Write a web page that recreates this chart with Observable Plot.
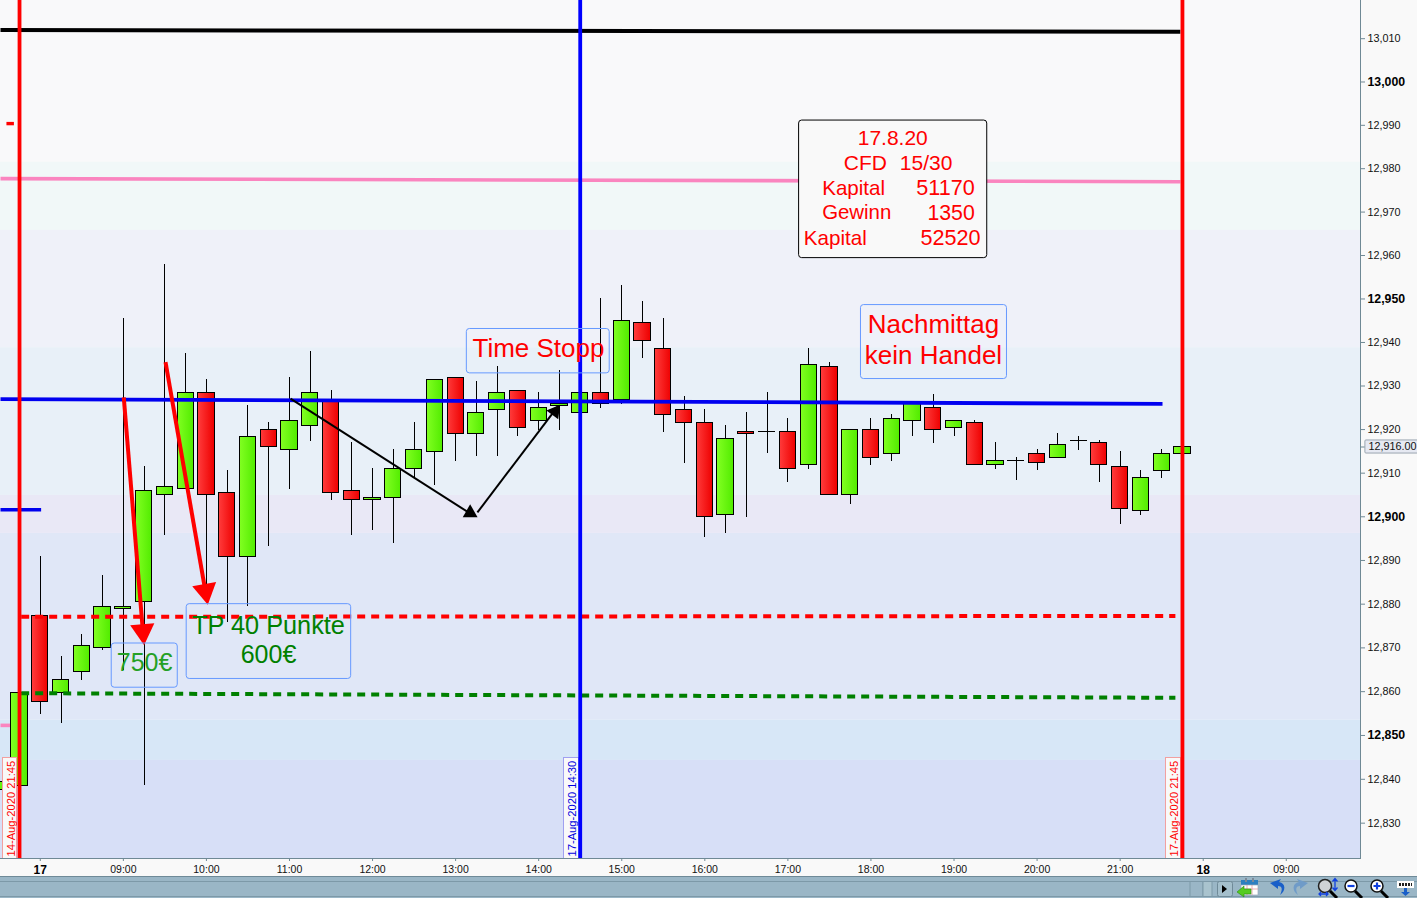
<!DOCTYPE html>
<html><head><meta charset="utf-8">
<script src="https://cdn.jsdelivr.net/npm/d3@7"></script>
<script src="https://cdn.jsdelivr.net/npm/@observablehq/plot@0.6"></script>
<style>
html,body{margin:0;padding:0;background:#f9f9f9;overflow:hidden}
#tb{position:relative;height:22px;width:1417px;background:#9ab6c6;overflow:hidden}
#tb svg{position:absolute;left:0;top:0;display:block}
</style></head><body><div id="c"></div><div id="tb"></div>
<script>
// Candles, 15 minute slots, slot 0 = Monday 17 Aug 08:00
const firstSlot = -2;
const open  = [12837.5,12838.5,12877.4,12859.6,12864.5,12870.0,12879.0,12880.6,12905.0,12906.4,12928.4,12905.5,12890.8,12920.0,12915.4,12920.9,12926.7,12906.0,12903.8,12904.3,12911.0,12914.9,12931.9,12919.0,12924.5,12928.9,12922.0,12925.5,12923.9,12928.4,12926.8,12944.5,12938.5,12924.5,12921.6,12900.4,12919.5,12919.5,12919.5,12911.9,12934.4,12905.0,12920.0,12914.5,12922.0,12925.0,12920.3,12921.6,12911.9,12912.8,12914.5,12913.4,12917.4,12917.0,12911.5,12901.4,12910.5,12914.5];
const close = [12839.4,12859.6,12857.6,12862.6,12870.5,12879.4,12879.4,12906.0,12906.9,12928.4,12905.0,12890.8,12918.4,12916.1,12922.0,12928.4,12905.5,12903.9,12904.3,12911.0,12915.4,12931.4,12919.0,12923.9,12928.4,12920.4,12925.0,12925.9,12928.4,12925.9,12945.0,12940.4,12923.4,12921.6,12900.0,12917.9,12919.0,12919.5,12911.0,12934.9,12905.0,12920.0,12913.5,12922.5,12926.0,12920.0,12922.0,12911.9,12912.8,12912.8,12912.4,12916.5,12917.4,12911.9,12901.8,12908.9,12914.5,12916.1];
const high  = [12839.4,12859.6,12890.9,12868.0,12873.1,12886.5,12945.5,12911.5,12958.0,12937.5,12931.5,12910.6,12925.5,12921.6,12932.0,12937.9,12929.0,12917.0,12911.1,12915.4,12921.6,12931.4,12931.9,12931.0,12934.5,12928.9,12928.5,12933.6,12928.4,12950.1,12953.1,12949.4,12945.5,12927.5,12924.5,12920.9,12923.9,12928.5,12922.5,12938.5,12935.4,12920.0,12922.5,12923.4,12926.0,12928.1,12922.0,12922.1,12917.0,12913.6,12915.4,12919.1,12918.4,12917.5,12915.0,12910.6,12915.4,12916.1];
const low   = [12837.5,12838.5,12854.8,12852.8,12862.5,12869.3,12864.8,12838.5,12895.8,12906.4,12880.5,12875.9,12879.4,12893.2,12906.3,12917.3,12903.8,12895.8,12896.9,12893.9,12909.1,12907.2,12912.7,12913.9,12913.9,12918.3,12919.8,12919.9,12923.9,12924.9,12925.8,12936.3,12919.4,12912.3,12895.3,12896.2,12899.9,12914.4,12907.9,12910.9,12905.0,12902.9,12911.8,12912.7,12918.3,12916.9,12918.3,12911.9,12910.9,12908.4,12910.5,12913.4,12915.3,12907.9,12898.3,12900.3,12908.8,12914.5];

// Background zones: lower and upper price, colour
const zoneLow  = [12981.5,12965.8,12938.8,12904.9,12896.2,12853.5,12844.3,12800];
const zoneHigh = [13050,12981.5,12965.8,12938.8,12904.9,12896.2,12853.5,12844.3];
const zoneFill = ["#f9f9fa","#f1f8f8","#eff1f9","#e8f0f8","#e9e8f6","#e0e7f7","#d7e7f7","#d7dff7"];

// Axis
const yRegular = [12830,12840,12860,12870,12880,12890,12910,12920,12930,12940,12960,12970,12980,12990,13010];
const yBold = [12850,12900,12950,13000];
const xSlots = [4,8,12,16,20,24,28,32,36,40,44,48,52,60];
const xLabels = ["09:00","10:00","11:00","12:00","13:00","14:00","15:00","16:00","17:00","18:00","19:00","20:00","21:00","09:00"];
const daySlots = [0,56];
const dayLabels = ["17","18"];

// Levels
const blackLine = [13012.0,13011.6];
const pinkLine  = [12977.7,12977.0];
const blueLine  = [12927.0,12925.9];
const redDashed = [12877.1,12877.3];
const greenDashed = [12859.65,12858.6];
const verticalSlots = [-1,26,55];
const verticalColors = ["#ff0000","#0000ff","#ff0000"];
const lastPrice = 12916;

const slots = open.map((_,i)=>i+firstSlot);
const candles = slots.map((s,i)=>({s,o:open[i],c:close[i],h:high[i],l:low[i]}));
const bodies = candles.filter(d=>d.o!==d.c);
const flats = candles.filter(d=>d.o===d.c);
const zones = zoneLow.map((l,i)=>({l,h:zoneHigh[i],f:zoneFill[i]}));
const seg = (a,b,y1,y2)=>[{x:a,y:y1},{x:b,y:y2}];
const axisColor = "#6f8995";
const half = 0.39;
const L = -1.916, R = 63.574, B = 12821.95, T = 13018.83;

const boxes = [
 {x1:36.54,x2:45.60,y1:12959.4,y2:12991.1,fill:"#f9f9f9",stroke:"#000"},
 {x1:20.54,x2:27.42,y1:12932.9,y2:12943.1,fill:"none",stroke:"#6699ff"},
 {x1:39.52,x2:46.55,y1:12931.6,y2:12948.6,fill:"none",stroke:"#6699ff"},
 {x1:3.44,x2:6.62,y1:12860.9,y2:12871.0,fill:"none",stroke:"#6699ff"},
 {x1:7.05,x2:14.97,y1:12862.9,y2:12880.0,fill:"none",stroke:"#6699ff"}
];
const notes = [
 {t:"17.8.20",x:41.05,y:12987.0,a:"middle",c:"#f00",z:21},
 {t:"CFD",x:38.69,y:12981.2,a:"start",c:"#f00",z:21},
 {t:"15/30",x:41.39,y:12981.2,a:"start",c:"#f00",z:21},
 {t:"Kapital",x:37.65,y:12975.5,a:"start",c:"#f00",z:20.6},
 {t:"51170",x:45.0,y:12975.5,a:"end",c:"#f00",z:21.6},
 {t:"Gewinn",x:37.65,y:12969.8,a:"start",c:"#f00",z:20.4},
 {t:"1350",x:45.0,y:12969.8,a:"end",c:"#f00",z:21.3},
 {t:"Kapital",x:36.77,y:12964.0,a:"start",c:"#f00",z:20.6},
 {t:"52520",x:45.28,y:12964.0,a:"end",c:"#f00",z:21.6},
 {t:"Time Stopp",x:23.99,y:12938.6,a:"middle",c:"#f00",z:26},
 {t:"Nachmittag",x:43.01,y:12944.1,a:"middle",c:"#f00",z:26},
 {t:"kein Handel",x:43.01,y:12937.0,a:"middle",c:"#f00",z:26},
 {t:"750€",x:5.02,y:12866.5,a:"middle",c:"#25a025",z:25},
 {t:"TP 40 Punkte",x:10.99,y:12875.1,a:"middle",c:"#008000",z:25.3},
 {t:"600€",x:10.99,y:12868.3,a:"middle",c:"#008000",z:25}
];
const dateTags = [
 {t:"14-Aug-2020 21:45",x1:-1.786,x2:-1.098,c:"#f00",b:"#f2a0a0"},
 {t:"17-Aug-2020 14:30",x1:25.24,x2:25.92,c:"#00d",b:"#a0a0f0"},
 {t:"17-Aug-2020 21:45",x1:54.2,x2:54.91,c:"#f00",b:"#f2a0a0"}
];

const chart = Plot.plot({
  width:1417, height:876,
  marginLeft:0, marginRight:57, marginTop:0, marginBottom:18,
  x:{domain:[L,R]},
  y:{type:"log",domain:[B,T]},
  style:{background:"#f9f9f9",fontFamily:"'Liberation Sans',Arial,sans-serif",display:"block"},
  marks:[
    Plot.rect(zones,{x1:()=>L,x2:()=>R,y1:"l",y2:"h",fill:"f",clip:true}),
    Plot.line(seg(L,54.9,pinkLine[0],pinkLine[1]),{x:"x",y:"y",stroke:"#fa85bf",strokeWidth:3.6,strokeLinecap:"butt"}),
    Plot.line(seg(L,-1.05,12852.3,12852.3),{x:"x",y:"y",stroke:"#fa85bf",strokeWidth:3.6,strokeLinecap:"butt"}),
    Plot.line(seg(L,54.9,blackLine[0],blackLine[1]),{x:"x",y:"y",stroke:"#000",strokeWidth:4,strokeLinecap:"butt"}),
    Plot.line(seg(-1.63,-1.27,12990.4,12990.4),{x:"x",y:"y",stroke:"#f00",strokeWidth:3.4,strokeLinecap:"butt"}),
    Plot.line(seg(L,0.04,12901.6,12901.6),{x:"x",y:"y",stroke:"#0000ee",strokeWidth:3.6,strokeLinecap:"butt"}),
    // candles
    Plot.ruleX(candles,{x:"s",y1:"l",y2:"h",stroke:"#000",strokeWidth:1,shapeRendering:"crispEdges",clip:true}),
    Plot.rect(bodies,{x1:d=>d.s-half,x2:d=>d.s+half,y1:d=>Math.min(d.o,d.c),y2:d=>Math.max(d.o,d.c),
      fill:d=>d.c>d.o?"url(#gUp)":"url(#gDn)",stroke:"#000",strokeWidth:1,shapeRendering:"crispEdges",clip:true}),
    Plot.ruleY(flats,{x1:d=>d.s-half-0.02,x2:d=>d.s+half+0.02,y:"c",stroke:"#000",strokeWidth:1,shapeRendering:"crispEdges"}),
    // levels
    Plot.line(seg(L,54.04,blueLine[0],blueLine[1]),{x:"x",y:"y",stroke:"#0000f0",strokeWidth:3.8,strokeLinecap:"butt"}),
    Plot.line(seg(-0.92,54.66,redDashed[0],redDashed[1]),{x:"x",y:"y",stroke:"#f00",strokeWidth:4,strokeDasharray:"8,6",strokeLinecap:"butt"}),
    Plot.line(seg(-0.92,54.66,greenDashed[0],greenDashed[1]),{x:"x",y:"y",stroke:"#008000",strokeWidth:4,strokeDasharray:"8,6",strokeLinecap:"butt"}),
    // arrows
    Plot.line(seg(4.02,4.94,12927.4,12873.8),{x:"x",y:"y",stroke:"#f00",strokeWidth:4,strokeLinecap:"butt"}),
    Plot.dot([{x:4.94,y:12873.8}],{x:"x",y:"y",symbol:"triangle",r:9,fill:"#f00",stroke:"none",rotate:175}),
    Plot.line(seg(6.03,7.95,12935.5,12883.0),{x:"x",y:"y",stroke:"#f00",strokeWidth:4,strokeLinecap:"butt"}),
    Plot.dot([{x:7.95,y:12883.0}],{x:"x",y:"y",symbol:"triangle",r:9,fill:"#f00",stroke:"none",rotate:170}),
    Plot.line(seg(12.05,20.62,12927.1,12901.0),{x:"x",y:"y",stroke:"#000",strokeWidth:2,strokeLinecap:"butt"}),
    Plot.dot([{x:20.70,y:12900.9}],{x:"x",y:"y",symbol:"triangle",r:5.5,fill:"#000",stroke:"none"}),
    Plot.line(seg(21.05,24.95,12901.0,12925.5),{x:"x",y:"y",stroke:"#000",strokeWidth:2,strokeLinecap:"butt"}),
    Plot.dot([{x:24.78,y:12924.15}],{x:"x",y:"y",symbol:"triangle",r:5.5,fill:"#000",stroke:"none",rotate:37}),
    // date tags
    Plot.rect(dateTags,{x1:"x1",x2:"x2",y1:B,y2:12844.9,fill:"#f9f9f9",stroke:"b",strokeWidth:1,shapeRendering:"crispEdges"}),
    Plot.text(dateTags,{text:"t",x:d=>(d.x1+d.x2)/2,y:12822.4,dx:1,rotate:-90,textAnchor:"start",fill:"c",fontSize:11.2}),
    // vertical lines
    Plot.ruleX(verticalSlots,{x:d=>d,y1:B,y2:T,stroke:(d,i)=>verticalColors[i],strokeWidth:3.8}),
    // boxes and notes
    Plot.rect(boxes,{x1:"x1",x2:"x2",y1:"y1",y2:"y2",fill:"fill",stroke:"stroke",strokeWidth:1,rx:3}),
    ...notes.map(n=>Plot.text([n],{text:"t",x:"x",y:"y",textAnchor:n.a,fill:n.c,fontSize:n.z})),
    // axes
    Plot.frame({anchor:"right",stroke:axisColor,strokeOpacity:1}),
    Plot.frame({anchor:"bottom",stroke:axisColor,strokeOpacity:1}),
    Plot.axisY(yRegular,{anchor:"right",label:null,tickSize:4,tickPadding:3,fontSize:10.8,stroke:axisColor,fill:"#111",tickFormat:d3.format(",")}),
    Plot.axisY(yBold,{anchor:"right",label:null,tickSize:4,tickPadding:3,fontSize:12.3,fontWeight:"bold",stroke:axisColor,fill:"#000",tickFormat:d3.format(",")}),
    Plot.axisX(xSlots,{anchor:"bottom",label:null,tickSize:3,tickPadding:4,fontSize:10.5,stroke:axisColor,fill:"#111",tickFormat:d=>xLabels[xSlots.indexOf(d)]}),
    Plot.axisX(daySlots,{anchor:"bottom",label:null,tickSize:3,tickPadding:4,fontSize:12,fontWeight:"bold",stroke:axisColor,fill:"#000",tickFormat:d=>dayLabels[daySlots.indexOf(d)]}),
    // last price tag
    Plot.ruleY([lastPrice],{x1:R,x2:63.81,stroke:axisColor}),
    Plot.rect([lastPrice],{x1:63.81,x2:66.4,y1:d=>d-1.5,y2:d=>d+1.5,fill:"#e6e9f2",stroke:"#9aa6b0",strokeWidth:1,rx:1}),
    Plot.text([lastPrice],{text:d=>d3.format(",.2f")(d),x:63.96,y:d=>d,textAnchor:"start",fontSize:10.8,fill:"#111"})
  ]
});
chart.insertAdjacentHTML("afterbegin",`<defs>
<linearGradient id="gUp" x1="0" x2="1" y1="0" y2="0"><stop offset="0" stop-color="#82ff22"/><stop offset="1" stop-color="#52ec00"/></linearGradient>
<linearGradient id="gDn" x1="0" x2="1" y1="0" y2="0"><stop offset="0" stop-color="#ff3c3c"/><stop offset="1" stop-color="#ee0000"/></linearGradient>
</defs>`);
document.getElementById("c").appendChild(chart);

// Application toolbar below the chart
document.getElementById("tb").innerHTML = `<svg width="1417" height="22" viewBox="0 0 1417 22">
<rect width="1417" height="1" y="0" fill="#6f8a98"/>
<rect width="1417" height="1" y="5" fill="#7d99a8"/>
<rect width="1417" height="1" y="20" fill="#7d99a8"/>
<rect x="1190" y="5.5" width="13" height="15" fill="#9ab6c6" stroke="#7d99a8"/>
<rect x="1203" y="5.5" width="9" height="15" fill="#a9c3ce" stroke="#7d99a8"/>
<rect x="1217.5" y="5.5" width="15" height="15" rx="2" fill="#a4bfcc" stroke="#6f8a98"/>
<path d="M1222 9l5 4-5 4z" fill="#000"/>
<rect x="1241" y="4" width="17" height="5" fill="#2d7fc0"/><rect x="1241" y="9" width="17" height="10" fill="#fff" stroke="#9ab" stroke-width=".7"/>
<path d="M1246 2v4M1253 2v4" stroke="#7d8a98" stroke-width="2"/>
<path d="M1247 9v10M1252 9v10M1241 13h17" stroke="#e09090" stroke-width=".7"/>
<path d="M1237 16l7-6v3h7v5h-7v3z" fill="#55cc22" stroke="#2a8a10" stroke-width=".6"/>
<path d="M1281 3l-11 4 8 6v-3c4 0 5 3 2 9 6-4 6-12-1-13z" fill="#1a5fc8"/>
<path d="M1297 3l11 4-8 6v-3c-4 0-5 3-2 9-6-4-6-12 1-13z" fill="#6f9bc8"/>
<circle cx="1325" cy="10" r="6.5" fill="#cfd2d6" stroke="#222" stroke-width="1.5"/><path d="M1330 15l7 7" stroke="#000" stroke-width="3"/>
<path d="M1335 3v11M1332.5 5.5l2.5-3 2.5 3M1332.5 11.5l2.5 3 2.5-3M1319 18h9M1321 16l-2 2 2 2M1326 16l2 2-2 2" stroke="#1040e0" fill="none" stroke-width="1.3"/>
<circle cx="1351" cy="10" r="6" fill="#fff" stroke="#111" stroke-width="1.5"/><path d="M1347.5 10h7" stroke="#1040e0" stroke-width="2.2"/><path d="M1355 15l7 7" stroke="#000" stroke-width="3"/>
<circle cx="1377" cy="10" r="6" fill="#fff" stroke="#111" stroke-width="1.5"/><path d="M1373.5 10h7M1377 6.5v7" stroke="#1040e0" stroke-width="2.2"/><path d="M1381 15l7 7" stroke="#000" stroke-width="3"/>
<rect x="1397" y="5" width="17" height="7" fill="#fff"/><path d="M1399 8.5h13" stroke="#222" stroke-width="3" stroke-dasharray="2,1"/>
<path d="M1404 12v4h-3l4.500 4 4.500-4h-3v-4z" fill="#1a5fc8"/>
</svg>`;
</script></body></html>
